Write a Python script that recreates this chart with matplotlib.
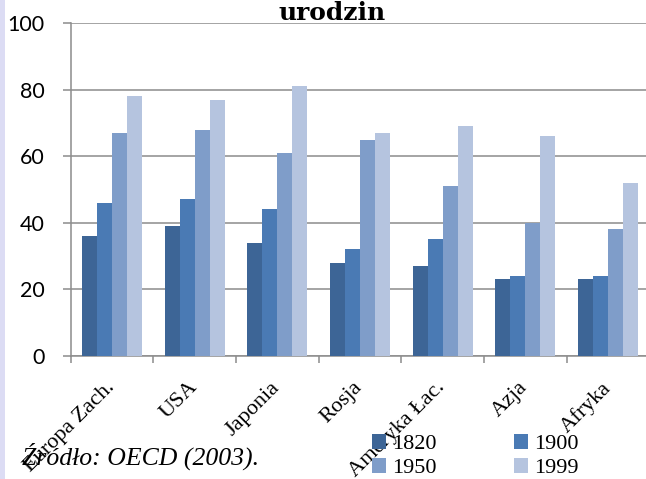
import matplotlib
matplotlib.use("Agg")
import matplotlib.pyplot as plt
import matplotlib.patches as mpatches
from matplotlib.transforms import ScaledTranslation
import numpy as np

categories = ["Europa Zach.", "USA", "Japonia", "Rosja", "Ameryka Łac.", "Azja", "Afryka"]
years = ["1820", "1900", "1950", "1999"]
v1820 = [36, 39, 34, 28, 27, 23, 23]
v1900 = [46, 47, 44, 32, 35, 24, 24]
v1950 = [67, 68, 61, 65, 51, 40, 38]
v1999 = [78, 77, 81, 67, 69, 66, 52]
series = [v1820, v1900, v1950, v1999]
colors = ["#3D6596", "#4A7AB4", "#7F9DC9", "#B5C4DF"]
title = "urodzin"
source = "Źródło: OECD (2003)."

W, H = 646, 479
fig = plt.figure(figsize=(W / 100, H / 100), dpi=100)
fig.patch.set_facecolor("white")

# left lavender strip
fig.add_artist(mpatches.Rectangle((0, 0), 4.5 / W, 1, transform=fig.transFigure,
                                  facecolor="#DCDCF4", edgecolor="none", zorder=0))

ax = fig.add_axes([70.7 / W, 1 - 355.7 / H, 578.7 / W, 332.5 / H])
x = np.arange(len(categories))
bw = 0.1815
for k, (vals, c, yr) in enumerate(zip(series, colors, years)):
    ax.bar(x + (k - 1.5) * bw, vals, width=bw, color=c, edgecolor="none",
           linewidth=0, label=yr, zorder=3)

ax.set_xlim(-0.5, len(categories) - 0.5)
ax.set_ylim(0, 100)
ax.set_yticks([0, 20, 40, 60, 80, 100])
ax.yaxis.grid(True, color="#8C8C8C", linewidth=1.1, zorder=1)
ax.set_axisbelow(True)
for s in ["top", "right"]:
    ax.spines[s].set_visible(False)
for s in ["left", "bottom"]:
    ax.spines[s].set_color("#8C8C8C")
    ax.spines[s].set_linewidth(1.1)

ax.tick_params(axis="y", direction="out", length=6, width=1.1, color="#8C8C8C",
               pad=13, labelsize=15.5, labelcolor="black")
for lab in ax.get_yticklabels():
    lab.set_fontfamily("Lato")

ax.set_xticks(x)
ax.set_xticks(np.arange(-0.5, len(categories) - 0.5, 1), minor=True)
ax.tick_params(axis="x", which="major", length=0, pad=16)
ax.tick_params(axis="x", which="minor", direction="out", length=5, width=1.1, color="#8C8C8C")
ax.set_xticklabels(categories, rotation=45, ha="right", va="top", rotation_mode="anchor",
                   fontsize=16, fontfamily="Liberation Serif")
for lab in ax.get_xticklabels():
    lab.set_transform(lab.get_transform() + ScaledTranslation(-7 / 100, 0, fig.dpi_scale_trans))

fig.text(332.5 / W, 1 - 20 / H, title, ha="center", va="baseline", fontsize=18,
         fontweight="bold", fontfamily="DejaVu Serif")

fig.text(22 / W, 1 - 465 / H, source, ha="left", va="baseline", fontsize=18.5,
         fontstyle="italic", fontfamily="Liberation Serif")

# legend in row-major order: 1820 1900 / 1950 1999
order = [0, 2, 1, 3]
handles = [mpatches.Patch(facecolor=colors[i], edgecolor="none") for i in order]
labels = [years[i] for i in order]
leg = fig.legend(handles, labels, loc="upper left", bbox_to_anchor=(372 / W, 1 - 434 / H),
                 ncol=2, frameon=False, prop={"family": "Liberation Serif", "size": 16},
                 handlelength=0.63, handleheight=0.63, handletextpad=0.27,
                 columnspacing=3.47, labelspacing=0.18, borderaxespad=0, borderpad=0)

fig.savefig("out.png", dpi=100)
